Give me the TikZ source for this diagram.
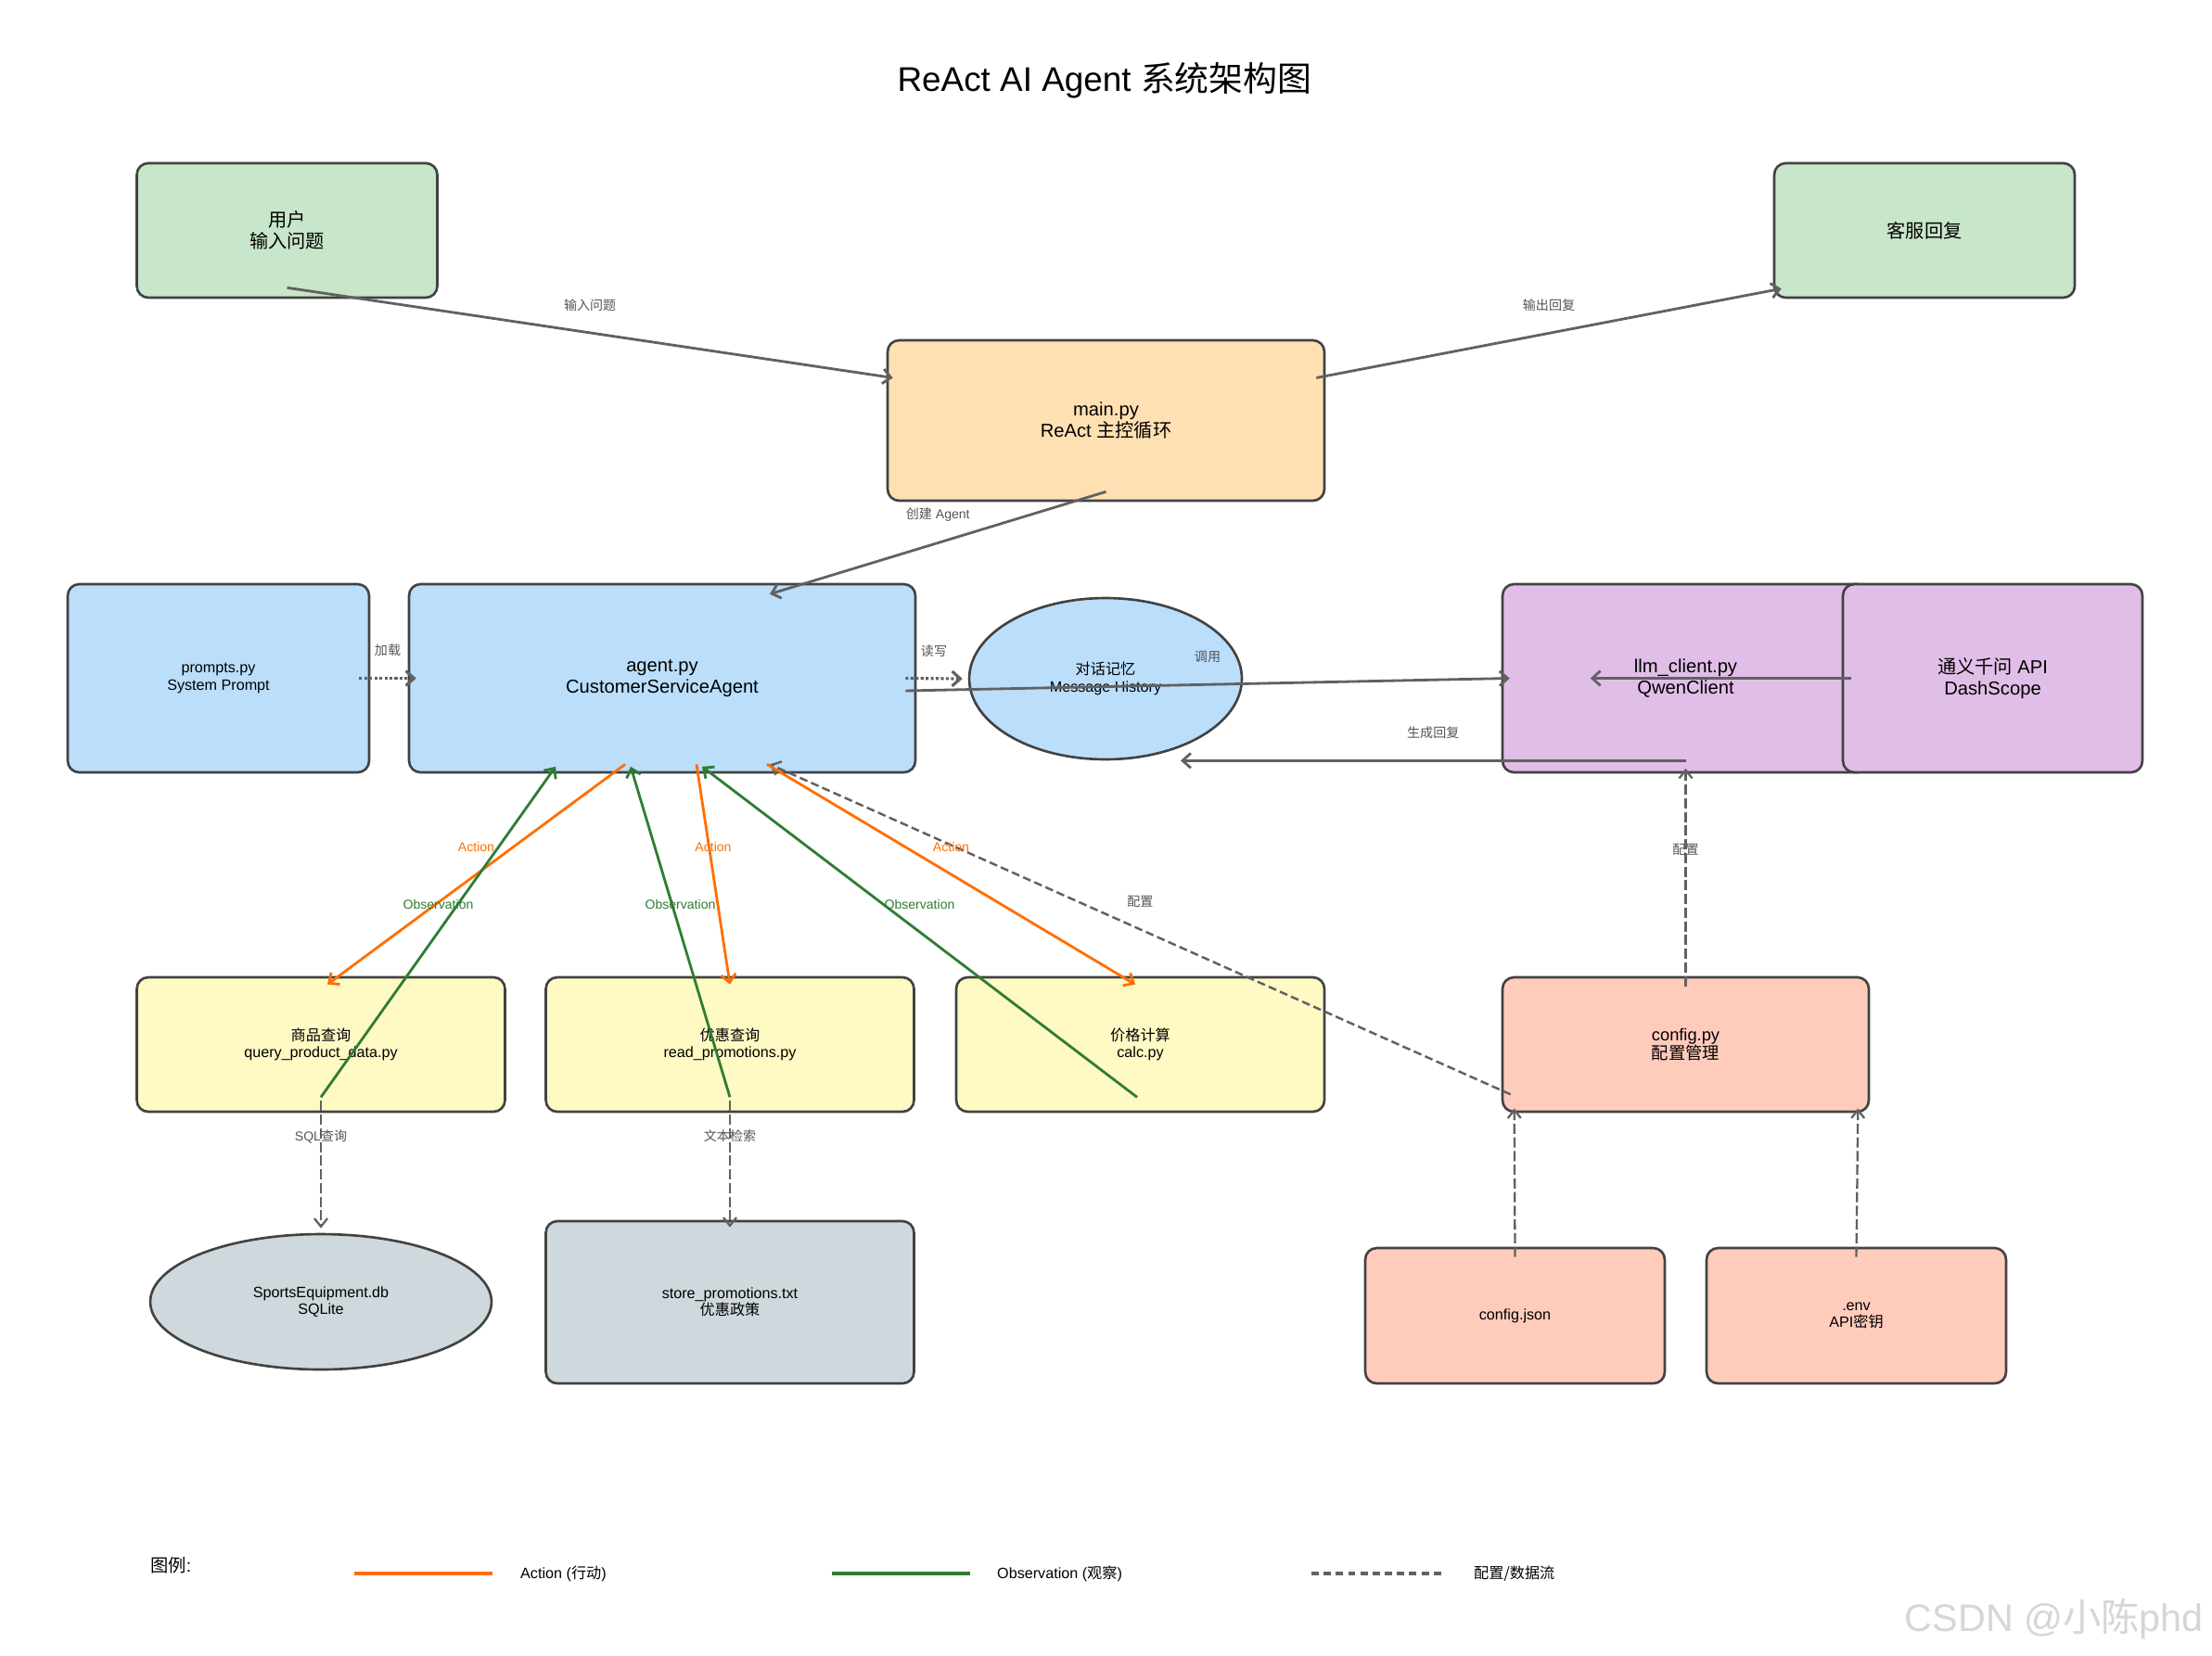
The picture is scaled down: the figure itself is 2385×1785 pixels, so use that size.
\documentclass[tikz,border=0pt]{standalone}
\usepackage{fontspec}
\setmainfont{Liberation Sans}
\newfontfamily\zh{Noto Sans CJK SC}
\usepackage{tikz}
\usetikzlibrary{arrows.meta}
\usetikzlibrary{shapes.geometric}
\usepackage{xcolor}
\definecolor{rimgray}{HTML}{424242}
\definecolor{flowgray}{HTML}{616161}
\definecolor{lblgray}{HTML}{555555}
\definecolor{actorange}{HTML}{FF6F00}
\definecolor{obsgreen}{HTML}{2E7D32}
\definecolor{usergreen}{HTML}{C8E6C9}
\definecolor{mainorange}{HTML}{FFE0B2}
\definecolor{agentblue}{HTML}{BBDEFB}
\definecolor{llmpurple}{HTML}{E1BEE7}
\definecolor{toolyellow}{HTML}{FFF9C4}
\definecolor{cfgpeach}{HTML}{FFCCBC}
\definecolor{datagray}{HTML}{CFD8DC}
\newcommand{\bigfont}{\fontsize{11.5}{12.8}\selectfont}
\newcommand{\midfont}{\fontsize{9.2}{10.5}\selectfont}

\begin{document}
\begin{tikzpicture}[x=0.02cm,y=-0.02cm]
\tikzstyle{every node}=[align=center]
\tikzstyle{box}=[draw=rimgray,line width=1.5pt,rounded corners=7pt]
\tikzstyle{oval}=[ellipse,draw=rimgray,line width=1.5pt]
\tikzstyle{lbl}=[midway,yshift=0.6cm,text=lblgray,font=\fontsize{8}{9}\selectfont]
\tikzstyle{flow}=[draw=flowgray,line width=1.6pt,arrows={-Straight Barb[length=5pt,width=9pt]}]
\tikzstyle{act}=[flow,draw=actorange]
\tikzstyle{obs}=[flow,draw=obsgreen]
\tikzstyle{cfgflow}=[flow,line width=1.4pt,dash pattern=on 5pt off 2.5pt]
\tikzstyle{thinflow}=[flow,line width=1.3pt,dash pattern=on 6.3pt off 2.1pt,arrows={-Straight Barb[length=5pt,width=8pt]}]
\tikzstyle{dotflow}=[flow,line width=1.8pt,dash pattern=on 1.8pt off 1.3pt]
\path[use as bounding box,fill=white] (0,0) rectangle (2385,1785);
\node[font=\fontsize{21}{24}\selectfont] (title) at (1191,87) {ReAct AI Agent {\zh 系统架构图}};
\node[box,fill=usergreen,minimum width=6.48cm,minimum height=2.9cm,font=\bigfont] (user) at (309.5,248.5) {{\zh 用户}\\{\zh 输入问题}};
\node[box,fill=usergreen,minimum width=6.48cm,minimum height=2.9cm,font=\bigfont] (reply) at (2075,248.5) {{\zh 客服回复}};
\node[box,fill=mainorange,minimum width=9.42cm,minimum height=3.46cm,font=\bigfont] (main) at (1192.5,453.5) {main.py\\ReAct {\zh 主控循环}};
\node[box,fill=agentblue,minimum width=6.5cm,minimum height=4.06cm,font=\midfont] (prompts) at (235.5,731.5) {prompts.py\\System Prompt};
\node[box,fill=agentblue,minimum width=10.92cm,minimum height=4.06cm,font=\bigfont] (agent) at (714,731.5) {agent.py\\CustomerServiceAgent};
\node[oval,fill=agentblue,minimum width=5.88cm,minimum height=3.48cm,font=\midfont] (memory) at (1192,732) {{\zh 对话记忆}\\Message History};
\node[box,fill=llmpurple,minimum width=7.9cm,minimum height=4.06cm,font=\bigfont] (llm) at (1817.5,731.5) {llm\_client.py\\QwenClient};
\node[box,fill=llmpurple,minimum width=6.46cm,minimum height=4.06cm,font=\bigfont] (qwen) at (2148.5,731.5) {{\zh 通义千问} API\\DashScope};
\node[box,fill=toolyellow,minimum width=7.94cm,minimum height=2.9cm,font=\midfont] (product) at (346,1126.5) {{\zh 商品查询}\\query\_product\_data.py};
\node[box,fill=toolyellow,minimum width=7.94cm,minimum height=2.9cm,font=\midfont] (promo) at (787,1126.5) {{\zh 优惠查询}\\read\_promotions.py};
\node[box,fill=toolyellow,minimum width=7.94cm,minimum height=2.9cm,font=\midfont] (calc) at (1229.5,1126.5) {{\zh 价格计算}\\calc.py};
\node[box,fill=cfgpeach,minimum width=7.9cm,minimum height=2.9cm,font=\fontsize{10.4}{11.6}\selectfont] (config) at (1817.5,1126.5) {config.py\\{\zh 配置管理}};
\node[oval,fill=datagray,minimum width=7.36cm,minimum height=2.92cm,font=\midfont] (db) at (346,1404) {SportsEquipment.db\\SQLite};
\node[box,fill=datagray,minimum width=7.94cm,minimum height=3.5cm,font=\midfont] (store) at (787,1404.5) {store\_promotions.txt\\{\zh 优惠政策}};
\node[box,fill=cfgpeach,minimum width=6.46cm,minimum height=2.92cm,font=\midfont] (cfgjson) at (1633.5,1419) {config.json};
\node[box,fill=cfgpeach,minimum width=6.46cm,minimum height=2.92cm,font=\midfont] (env) at (2001.5,1419) {.env\\API{\zh 密钥}};
\path ([yshift=0.24cm]user.south) edge[flow] node[lbl] {\zh 输入问题} ([xshift=0.14cm]main.169);
\path ([xshift=-0.2cm]main.11) edge[flow] node[lbl] {\zh 输出回复} ([xshift=0.18cm,yshift=0.22cm]reply.south west);
\path ([yshift=0.22cm]main.south) edge[flow] node[lbl] {{\zh 创建} Agent} ([xshift=2.32cm,yshift=-0.24cm]agent.north);
\path ([xshift=-0.24cm]prompts.east) edge[dotflow] node[lbl] {\zh 加载} ([xshift=0.18cm]agent.west);
\path ([xshift=-0.24cm]agent.east) edge[dotflow] node[lbl] {\zh 读写} ([xshift=-0.12cm]memory.west);
\path ([xshift=-0.24cm,yshift=-0.27cm]agent.east) edge[flow] node[lbl] {\zh 调用} ([xshift=0.18cm]llm.west);
\path ([xshift=0.2cm]qwen.west) edge[flow] ([xshift=1.92cm]llm.west);
\path ([yshift=0.28cm]llm.south) edge[flow] node[lbl] {\zh 生成回复} ([xshift=1.62cm]memory.south);
\path ([yshift=-0.22cm]config.north) edge[thinflow] node[lbl] {\zh 配置} ([yshift=0.11cm]llm.south);
\path ([xshift=0.2cm,yshift=0.4cm]config.south west) edge[cfgflow] node[lbl] {\zh 配置} ([xshift=2.32cm,yshift=0.2cm]agent.south);
\path ([yshift=-0.22cm]cfgjson.north) edge[thinflow] ([xshift=0.28cm,yshift=0.1cm]config.south west);
\path ([yshift=-0.22cm]env.north) edge[thinflow] ([xshift=-0.26cm,yshift=0.1cm]config.south east);
\path ([yshift=0.26cm]product.south) edge[thinflow] node[lbl] {SQL{\zh 查询}} ([yshift=0.1cm]db.north);
\path ([yshift=0.26cm]promo.south) edge[thinflow] node[lbl] {\zh 文本检索} ([yshift=-0.16cm]store.north);
\path ([xshift=-0.8cm,yshift=0.2cm]agent.south) edge[act] node[lbl,text=actorange] {Action} ([xshift=0.14cm,yshift=-0.18cm]product.north);
\path ([xshift=0.74cm,yshift=0.2cm]agent.south) edge[act] node[lbl,text=actorange] {Action} ([yshift=-0.18cm]promo.north);
\path ([xshift=2.26cm,yshift=0.2cm]agent.south) edge[act] node[lbl,text=actorange] {Action} ([xshift=-0.11cm,yshift=-0.18cm]calc.north);
\path ([yshift=0.34cm]product.south) edge[obs] node[lbl,text=obsgreen] {Observation} ([xshift=-2.3cm,yshift=0.15cm]agent.south);
\path ([yshift=0.34cm]promo.south) edge[obs] node[lbl,text=obsgreen] {Observation} ([xshift=-0.68cm,yshift=0.15cm]agent.south);
\path ([xshift=-0.07cm,yshift=0.34cm]calc.south) edge[obs] node[lbl,text=obsgreen] {Observation} ([xshift=0.86cm,yshift=0.15cm]agent.south);
\node[anchor=west,font=\fontsize{11}{13}\selectfont] (legend) at (156,1688) {{\zh 图例}:};
\coordinate (actA) at (382,1697);
\coordinate (actB) at (531,1697);
\coordinate (obsA) at (897,1697);
\coordinate (obsB) at (1046,1697);
\coordinate (cfgA) at (1414,1697);
\coordinate (cfgB) at (1556,1697);
\draw[actorange,line width=2.4pt] (actA) -- (actB);
\draw[obsgreen,line width=2.4pt] (obsA) -- (obsB);
\draw[flowgray,line width=2.4pt,dash pattern=on 4.5pt off 3pt] (cfgA) -- (cfgB);
\node[anchor=west,font=\midfont] (actkey) at (555,1697) {Action ({\zh 行动})};
\node[anchor=west,font=\midfont] (obskey) at (1069,1697) {Observation ({\zh 观察})};
\node[anchor=west,font=\midfont] (cfgkey) at (1583,1697) {\zh 配置/数据流};
\node[anchor=east,text=black!16,font=\fontsize{23.5}{27}\selectfont] (mark) at (2382,1746) {CSDN @{\zh 小陈}phd};
\end{tikzpicture}
\end{document}
